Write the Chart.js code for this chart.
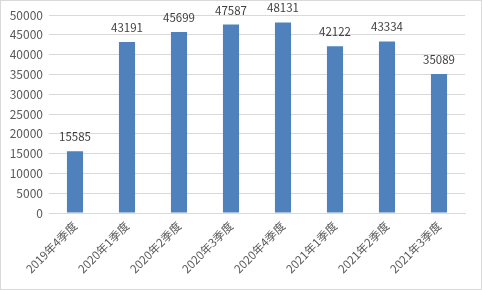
<!DOCTYPE html>
<html>
<head>
<meta charset="utf-8">
<script src="https://cdn.jsdelivr.net/npm/chart.js@4"></script>
<style>
  html, body { margin: 0; padding: 0; background: #fff; }
  #wrap { position: relative; width: 480px; height: 288px; border: 1px solid #d9d9d9; }
</style>
</head>
<body>
<div id="wrap"><canvas id="salesChart"></canvas></div>
<script>
// data
const quarters = ['2019年4季度', '2020年1季度', '2020年2季度', '2020年3季度', '2020年4季度', '2021年1季度', '2021年2季度', '2021年3季度'];
const counts = [15585, 43191, 45699, 47587, 48131, 42122, 43334, 35089];
const yTicks = [0, 5000, 10000, 15000, 20000, 25000, 30000, 35000, 40000, 45000, 50000];

const fontFamily = '"Noto Sans CJK SC", "Liberation Sans", sans-serif';

// value labels above the bars
const barLabels = {
  id: 'barLabels',
  afterDatasetsDraw(chart) {
    const ctx = chart.ctx;
    const meta = chart.getDatasetMeta(0);
    ctx.save();
    ctx.fillStyle = '#404040';
    ctx.font = '11.5px ' + fontFamily;
    ctx.textAlign = 'center';
    ctx.textBaseline = 'alphabetic';
    meta.data.forEach((bar, i) => {
      ctx.fillText(counts[i], bar.x, bar.y - 10);
    });
    ctx.restore();
  }
};

const ctx = document.getElementById('salesChart').getContext('2d');
const chart = new Chart(ctx, {
  type: 'bar',
  data: {
    labels: quarters,
    datasets: [{
      data: counts,
      backgroundColor: '#4f81bd',
      categoryPercentage: 1,
      barPercentage: 0.31
    }]
  },
  options: {
    responsive: true,
    maintainAspectRatio: false,
    animation: false,
    layout: { padding: { left: 0, top: 14, right: 16, bottom: 0 } },
    plugins: {
      legend: { display: false },
      tooltip: { enabled: false }
    },
    scales: {
      x: {
        grid: { display: false, drawTicks: false },
        border: { color: '#d9d9d9' },
        ticks: {
          color: '#595959',
          font: { family: fontFamily, size: 11.5 },
          minRotation: 45,
          maxRotation: 45,
          padding: 6
        },
        afterFit(axis) { axis.height = 76; }
      },
      y: {
        min: 0,
        max: 50000,
        afterBuildTicks(axis) { axis.ticks = yTicks.map(v => ({ value: v })); },
        grid: { color: '#d9d9d9', drawTicks: false },
        border: { display: false },
        ticks: {
          color: '#595959',
          font: { family: fontFamily, size: 12 },
          padding: 6,
          callback: v => String(v)
        },
        afterFit(axis) { axis.width = 48; }
      }
    }
  },
  plugins: [barLabels]
});
</script>
</body>
</html>
